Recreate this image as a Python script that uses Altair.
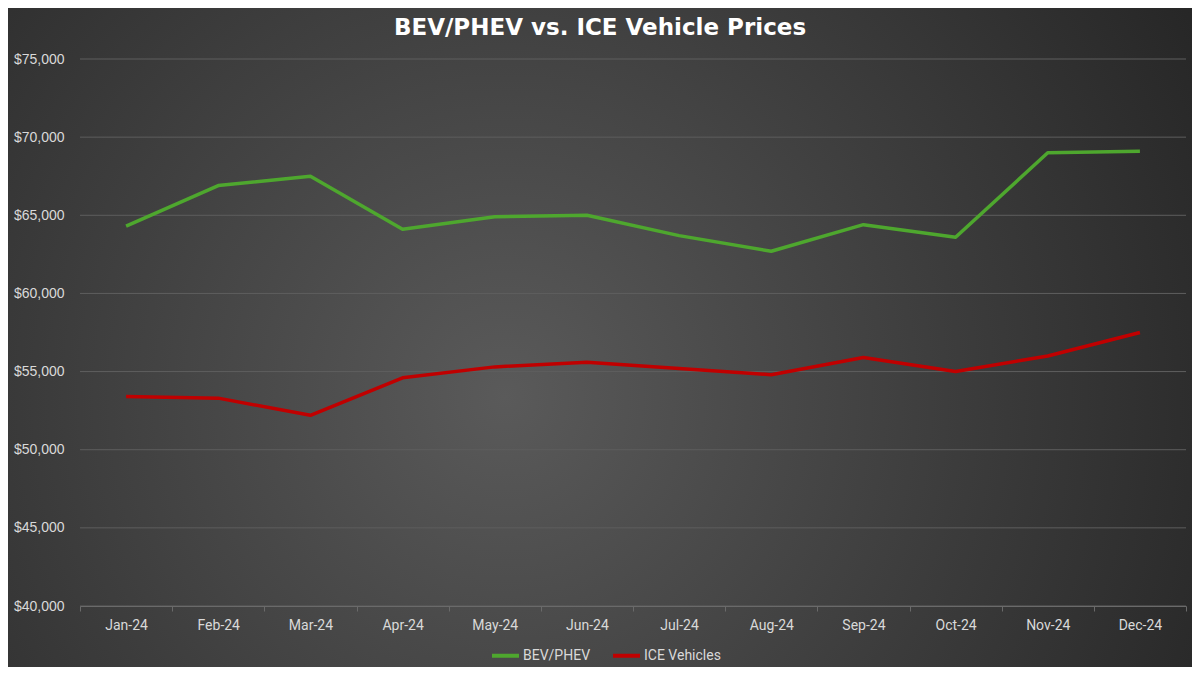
import altair as alt
import pandas as pd

months = ["Jan-24", "Feb-24", "Mar-24", "Apr-24", "May-24", "Jun-24",
          "Jul-24", "Aug-24", "Sep-24", "Oct-24", "Nov-24", "Dec-24"]
bev_phev = [64300, 66900, 67500, 64100, 64900, 65000, 63700, 62700, 64400, 63600, 69000, 69100]
ice_vehicles = [53400, 53300, 52200, 54600, 55300, 55600, 55200, 54800, 55900, 55000, 56000, 57500]
series = ["BEV/PHEV", "ICE Vehicles"]
series_colors = ["#4EA72E", "#C00000"]
y_ticks = [40000, 45000, 50000, 55000, 60000, 65000, 70000, 75000]

df = pd.DataFrame({
    "Month": months * 2,
    "Price": bev_phev + ice_vehicles,
    "Series": [series[0]] * len(months) + [series[1]] * len(months),
})

W, H = 1106, 547
PL, PT = 72, 51
TOTW, TOTH = 1184, 659

y_scale = alt.Scale(domain=[40000, 75000], nice=False)
y_axis = alt.Axis(title=None, values=y_ticks, format="$,.0f", domain=False, ticks=False,
                  grid=False, zindex=1,
                  labelColor="#d9d9d9", labelFont="Liberation Sans", labelFontSize=14,
                  labelPadding=16)

bg = alt.Chart(pd.DataFrame({"a": [0]})).mark_rect(
    fill=alt.RadialGradient(
        gradient="radial",
        stops=[alt.GradientStop(color="#5a5a5a", offset=0),
               alt.GradientStop(color="#3c3c3c", offset=0.55),
               alt.GradientStop(color="#242424", offset=1)],
        x1=0.42, y1=0.55, r1=0, x2=0.42, y2=0.55, r2=0.7,
    ),
    clip=False,
).encode(
    x=alt.value(-PL), x2=alt.value(TOTW - PL),
    y=alt.value(-PT), y2=alt.value(TOTH - PT),
)

grid = alt.Chart(pd.DataFrame({"Price": y_ticks})).mark_rule(color="#5e5e5e", strokeWidth=1).encode(
    y=alt.Y("Price:Q", scale=y_scale, axis=y_axis),
)

lines = alt.Chart(df).mark_line(strokeWidth=3.5, strokeJoin="round").encode(
    x=alt.X("Month:O", sort=months, bandPosition=0.5,
            scale=alt.Scale(type="band", paddingInner=0, paddingOuter=0),
            axis=alt.Axis(title=None, labelAngle=0, tickBand="extent", grid=False, zindex=1,
                          domainColor="#6a6a6a", tickColor="#6a6a6a", tickSize=5,
                          labelColor="#d9d9d9", labelFont="Roboto", labelFontSize=14,
                          labelPadding=7)),
    y=alt.Y("Price:Q", scale=y_scale, axis=y_axis),
    color=alt.Color("Series:N", sort=series,
                    scale=alt.Scale(domain=series, range=series_colors),
                    legend=alt.Legend(title=None, orient="none", legendX=410, legendY=581,
                                      direction="horizontal", symbolType="stroke",
                                      symbolStrokeWidth=4, symbolSize=729,
                                      labelColor="#d9d9d9", labelFont="Roboto", labelFontSize=14,
                                      labelOffset=2, columnPadding=14)),
)

chart = alt.layer(bg, grid, lines).properties(
    width=W, height=H,
    title=alt.TitleParams("BEV/PHEV vs. ICE Vehicle Prices", font="DejaVu Sans", fontSize=23,
                          fontWeight="bold", color="#ffffff", anchor="middle", dx=-33,
                          baseline="alphabetic", offset=-50),
    autosize=alt.AutoSizeParams(type="none"),
    padding={"left": PL, "top": PT, "right": TOTW - PL - W, "bottom": TOTH - PT - H},
).configure(background="#262626").configure_view(stroke=None)

chart.save("out.html", embed_options={"renderer": "svg", "actions": False})
